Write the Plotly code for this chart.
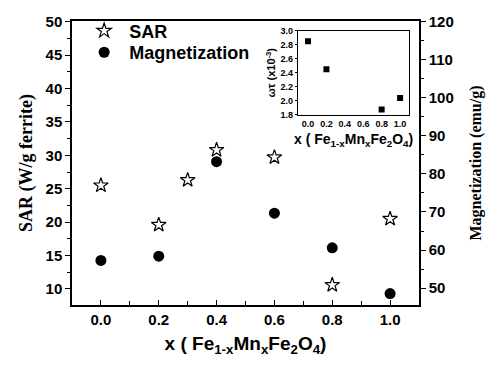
import plotly.graph_objects as go

x_sar = [0.0, 0.2, 0.3, 0.4, 0.6, 0.8, 1.0]
sar = [25.5, 19.6, 26.3, 30.8, 29.7, 10.6, 20.5]

x_mag = [0.0, 0.2, 0.4, 0.6, 0.8, 1.0]
mag = [57.3, 58.4, 83.2, 69.7, 60.6, 48.6]

x_wt = [0.0, 0.2, 0.8, 1.0]
wt = [2.85, 2.45, 1.875, 2.04]

SANS = "Liberation Sans, Arial, sans-serif"
SERIF = "Liberation Serif, Times New Roman, serif"
formula = "x ( Fe<sub>1-x</sub>Mn<sub>x</sub>Fe<sub>2</sub>O<sub>4</sub>)"
PAD = "\u00a0"

fig = go.Figure()
fig.add_trace(go.Scatter(
    x=x_sar, y=sar, mode="markers", name=PAD + "SAR", legend="legend",
    marker=dict(symbol="star-open", size=11, color="black", line=dict(width=1.2, color="black")),
))
fig.add_trace(go.Scatter(
    x=x_mag, y=mag, mode="markers", name=PAD + "Magnetization", yaxis="y2", legend="legend2",
    marker=dict(symbol="circle", size=11, color="black"),
))
fig.add_trace(go.Scatter(
    x=x_wt, y=wt, mode="markers", showlegend=False, xaxis="x2", yaxis="y3",
    marker=dict(symbol="square", size=6, color="black"),
))

axis_common = dict(showline=True, linecolor="black", linewidth=1.5, showgrid=False,
                   zeroline=False, ticklen=5, tickwidth=1.2, tickcolor="black")
legend_font = dict(family=SANS, size=18, color="black", weight="bold")

fig.update_layout(
    width=494, height=366,
    margin=dict(l=72, r=67, t=14, b=61),
    paper_bgcolor="white", plot_bgcolor="white",
    showlegend=True,
    legend=dict(x=0.035, y=1.03, xanchor="left", yanchor="top", font=legend_font,
                bgcolor="rgba(0,0,0,0)"),
    legend2=dict(x=0.035, y=0.954, xanchor="left", yanchor="top", font=legend_font,
                 bgcolor="rgba(0,0,0,0)"),
    xaxis=dict(**axis_common, range=[-0.1, 1.1], tickvals=[0, 0.2, 0.4, 0.6, 0.8, 1.0],
               tickformat=".1f", ticks="inside", mirror=True,
               minor=dict(tickvals=[0.1, 0.3, 0.5, 0.7, 0.9], ticks="inside", ticklen=4, tickcolor="black"),
               tickfont=dict(family=SANS, size=15, color="black", weight="bold"),
               title=dict(text=formula, standoff=10,
                          font=dict(family=SANS, size=19, color="black", weight="bold"))),
    yaxis=dict(**axis_common, range=[7.6, 50.1], tick0=10, dtick=5, ticks="outside",
               minor=dict(dtick=2.5, tick0=10, ticks="outside", ticklen=3, tickcolor="black"),
               tickfont=dict(family=SANS, size=15, color="black", weight="bold"),
               title=dict(text="SAR (W/g ferrite)", standoff=8,
                          font=dict(family=SERIF, size=18, color="black", weight="bold"))),
    yaxis2=dict(**axis_common, overlaying="y", side="right", range=[45.6, 120.1],
                tick0=50, dtick=10, ticks="outside",
                minor=dict(dtick=5, tick0=50, ticks="outside", ticklen=3, tickcolor="black"),
                tickfont=dict(family=SANS, size=15, color="black", weight="bold"),
                title=dict(text="Magnetization (emu/g)", standoff=17,
                           font=dict(family=SERIF, size=16, color="black", weight="bold"))),
    xaxis2=dict(showline=True, linecolor="black", linewidth=1.2, mirror=True, showgrid=False,
                zeroline=False, domain=[0.651, 0.972], anchor="y3", range=[-0.11, 1.1],
                tickvals=[0, 0.2, 0.4, 0.6, 0.8, 1.0], tickformat=".1f", ticks="",
                tickfont=dict(family=SANS, size=9, color="black", weight="bold")),
    yaxis3=dict(showline=True, linecolor="black", linewidth=1.2, mirror=True, showgrid=False,
                zeroline=False, domain=[0.67, 0.966], anchor="x2", range=[1.8, 3.0],
                dtick=0.2, tick0=1.8, tickformat=".1f", ticks="outside", ticklen=2,
                tickcolor="black",
                tickfont=dict(family=SANS, size=9, color="black", weight="bold"),
                title=dict(text="ωτ (x10<sup>-3</sup>)", standoff=2,
                           font=dict(family=SANS, size=11, color="black", weight="bold"))),
    annotations=[dict(text=formula, xref="paper", yref="paper", x=0.811, y=0.617,
                      xanchor="center", yanchor="top", showarrow=False, borderpad=0,
                      font=dict(family=SANS, size=14, color="black", weight="bold"))],
)

fig.write_html("out.html")
